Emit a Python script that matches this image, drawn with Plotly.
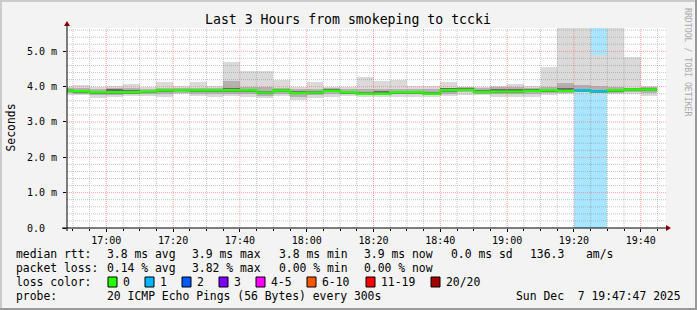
import plotly.graph_objects as go
import pandas as pd

# ---------------- data ----------------
bin_start = pd.date_range("2025-12-07 16:45:00", periods=36, freq="5min")
median_ms = [3.89, 3.87, 3.84, 3.84, 3.84, 3.86, 3.90, 3.90, 3.90, 3.90, 3.90, 3.90,
             3.83, 3.89, 3.82, 3.83, 3.88, 3.84, 3.80, 3.80, 3.84, 3.84, 3.80, 3.90,
             3.91, 3.85, 3.86, 3.86, 3.88, 3.90, 3.88, 3.90, 3.86, 3.90, 3.92, 3.92]
max_ms = [4.02, 4.05, 4.00, 4.02, 4.07, 3.99, 4.14, 4.02, 4.14, 4.03, 4.70, 4.44,
          4.45, 4.20, 3.99, 4.14, 4.00, 3.98, 4.28, 4.15, 4.19, 4.02, 4.01, 4.14,
          3.97, 3.99, 4.03, 4.08, 4.03, 4.57, 6.00, 6.00, 4.91, 6.00, 4.83, 4.02]
min_ms = [3.77, 3.77, 3.68, 3.71, 3.74, 3.74, 3.72, 3.79, 3.74, 3.72, 3.74, 3.72,
          3.68, 3.73, 3.61, 3.68, 3.72, 3.74, 3.70, 3.70, 3.72, 3.72, 3.70, 3.73,
          3.77, 3.77, 3.71, 3.72, 3.72, 3.77, 3.79, 3.81, 3.77, 3.79, 3.79, 3.74]
q_hi = [3.96, 3.95, 3.93, 3.97, 3.95, 3.93, 3.97, 3.96, 3.97, 3.97, 4.17, 4.00,
        3.98, 3.96, 3.93, 3.94, 3.95, 3.93, 3.93, 3.92, 3.94, 3.94, 3.92, 3.97,
        3.98, 3.95, 3.98, 3.98, 3.97, 4.00, 4.10, 4.05, 4.03, 4.00, 3.97, 3.98]
q_lo = [3.81, 3.80, 3.76, 3.77, 3.78, 3.79, 3.80, 3.83, 3.80, 3.79, 3.80, 3.79,
        3.74, 3.79, 3.72, 3.75, 3.79, 3.78, 3.75, 3.75, 3.78, 3.78, 3.75, 3.80,
        3.84, 3.80, 3.78, 3.78, 3.80, 3.82, 3.82, 3.84, 3.81, 3.83, 3.85, 3.82]
d_hi = [3.93, 3.91, 3.89, 3.93, 3.91, 3.89, 3.94, 3.94, 3.93, 3.94, 3.95, 3.94,
        3.87, 3.93, 3.87, 3.87, 3.92, 3.88, 3.86, 3.87, 3.89, 3.89, 3.86, 3.95,
        3.96, 3.90, 3.93, 3.93, 3.93, 3.94, 3.95, 3.93, 3.90, 3.93, 3.96, 3.96]
d_lo = [3.85, 3.82, 3.80, 3.80, 3.80, 3.82, 3.86, 3.87, 3.86, 3.86, 3.86, 3.86,
        3.79, 3.85, 3.78, 3.79, 3.84, 3.80, 3.76, 3.76, 3.80, 3.80, 3.76, 3.86,
        3.87, 3.81, 3.82, 3.82, 3.84, 3.86, 3.85, 3.86, 3.82, 3.86, 3.88, 3.88]
loss_pings = [0, 0, 0, 0, 0, 0, 0, 0, 0, 0, 0, 0,
              0, 0, 0, 0, 0, 0, 0, 0, 0, 0, 0, 0,
              0, 0, 0, 0, 0, 0, 0, 1, 1, 0, 0, 0]

y_tick_vals = [0, 1, 2, 3, 4, 5]
y_tick_text = ["0.0\u00a0\u00a0", "1.0\u00a0m", "2.0\u00a0m", "3.0\u00a0m", "4.0\u00a0m", "5.0\u00a0m"]
loss_labels = ["0", "1", "2", "3", "4-5", "6-10", "11-19", "20/20"]
loss_colors = ["#26ff00", "#00b8ff", "#0059ff", "#7e00ff", "#ff00ff", "#ff5500", "#ff0000", "#a10000"]

# ---------------- geometry ----------------
W, H = 697, 310
L, R, T, B = 67, 31, 28, 82
PW, PH = W - L - R, H - T - B
Y_TOP = 5.66
STEP_MS = 300000
MONO = "DejaVu Sans Mono"

def px(x):
    return (x - L) / PW

def py(y):
    return (H - B - y) / PH

fig = go.Figure()

# loss background columns
loss_x = [t for t, l in zip(bin_start, loss_pings) if l > 0]
fig.add_trace(go.Bar(x=loss_x, y=[10] * len(loss_x), base=[0] * len(loss_x),
                     width=STEP_MS, offset=0, marker_color="#a8e6ff",
                     marker_line_width=0, hoverinfo="skip"))

def band(lo, hi, color):
    fig.add_trace(go.Bar(x=bin_start, y=[h - l for l, h in zip(lo, hi)], base=lo,
                         width=STEP_MS, offset=0, marker_color=color,
                         marker_line_width=0, hoverinfo="skip"))

band(min_ms, max_ms, "#dadada")
band(q_lo, q_hi, "#b2b2b2")
band(d_lo, d_hi, "#6a6a6a")

# median step line
end_t = bin_start[-1] + pd.Timedelta(minutes=5)
fig.add_trace(go.Scatter(x=list(bin_start) + [end_t], y=median_ms + [median_ms[-1]],
                         mode="lines", line=dict(color="#26ff00", width=2.4, shape="hv"),
                         hoverinfo="skip"))
seg_x, seg_y = [], []
for t, m, l in zip(bin_start, median_ms, loss_pings):
    if l > 0:
        seg_x += [t, t + pd.Timedelta(minutes=5), None]
        seg_y += [m, m, None]
fig.add_trace(go.Scatter(x=seg_x, y=seg_y, mode="lines",
                         line=dict(color="#00b8ff", width=2.4), hoverinfo="skip"))

# ---------------- grid (drawn above data, as rrdtool does) ----------------
shapes = []
MAJ = "rgba(255,95,95,0.6)"
MIN = "rgba(140,140,140,0.5)"
for t in pd.date_range("2025-12-07 16:50:00", "2025-12-07 19:45:00", freq="5min"):
    major = (t.minute % 20 == 0)
    shapes.append(dict(type="line", xref="x", yref="y", x0=t, x1=t, y0=0, y1=Y_TOP,
                       layer="above", line=dict(color=MAJ if major else MIN, width=1, dash="1px,1px")))
for k in range(1, 29):
    v = k * 0.2
    major = (k % 5 == 0)
    shapes.append(dict(type="line", xref="paper", yref="y", x0=0, x1=1, y0=v, y1=v,
                       layer="above", line=dict(color=MAJ if major else MIN, width=1, dash="1px,1px")))

# axes lines + arrows
shapes.append(dict(type="line", xref="paper", yref="paper", x0=px(62), x1=px(667), y0=0, y1=0,
                   layer="above", line=dict(color="black", width=1)))
shapes.append(dict(type="line", xref="paper", yref="paper", x0=0, x1=0, y0=py(231), y1=py(24),
                   layer="above", line=dict(color="black", width=1)))
shapes.append(dict(type="path", xref="paper", yref="paper",
                   path=f"M {px(666)} {py(225)} L {px(671)} {py(228)} L {px(666)} {py(231)} Z",
                   fillcolor="#8b0000", line=dict(width=0), layer="above"))
shapes.append(dict(type="path", xref="paper", yref="paper",
                   path=f"M {px(64)} {py(26)} L {px(67)} {py(21)} L {px(70)} {py(26)} Z",
                   fillcolor="#8b0000", line=dict(width=0), layer="above"))

# canvas frame
shapes.append(dict(type="rect", xref="paper", yref="paper", x0=px(0), x1=px(2), y0=py(H), y1=py(0),
                   fillcolor="#cbcbcb", line=dict(width=0)))
shapes.append(dict(type="rect", xref="paper", yref="paper", x0=px(0), x1=px(W), y0=py(2), y1=py(0),
                   fillcolor="#cbcbcb", line=dict(width=0)))
shapes.append(dict(type="rect", xref="paper", yref="paper", x0=px(W - 2), x1=px(W), y0=py(H), y1=py(0),
                   fillcolor="#999999", line=dict(width=0)))
shapes.append(dict(type="rect", xref="paper", yref="paper", x0=px(0), x1=px(W), y0=py(H), y1=py(H - 2),
                   fillcolor="#999999", line=dict(width=0)))

# loss colour boxes
box_x = [108, 145, 182, 219, 256, 307, 366, 431]
label_x = [123, 160, 197, 234, 271, 322, 381, 446]
for bx, c in zip(box_x, loss_colors):
    shapes.append(dict(type="rect", xref="paper", yref="paper", x0=px(bx), x1=px(bx + 9),
                       y0=py(287), y1=py(277), fillcolor=c, line=dict(color="black", width=1)))

# ---------------- text ----------------
ann = []
def text(x, y, s, size=11.4, color="black", anchor="left", angle=0):
    ann.append(dict(x=px(x), y=py(y), xref="paper", yref="paper", text=s, showarrow=False,
                    xanchor=anchor, yanchor="middle", textangle=angle,
                    borderpad=0, borderwidth=0,
                    font=dict(family=MONO, size=size, color=color)))

text(348, 19, "Last 3 Hours from smokeping to tccki", size=13.2, anchor="center")
text(10.5, 128, "Seconds", size=11.4, anchor="center", angle=-90)
text(688, 62, "RRDTOOL / TOBI OETIKER", size=8.2, color="#aaaaaa", anchor="center", angle=90)

row1 = [(16, "median rtt:"), (107, "3.8 ms avg"), (192, "3.9 ms max"), (279, "3.8 ms min"),
        (364, "3.9 ms now"), (451, "0.0 ms sd"), (530, "136.3"), (586, "am/s")]
row2 = [(16, "packet loss:"), (107, "0.14 % avg"), (192, "3.82 % max"), (279, "0.00 % min"),
        (364, "0.00 % now")]
for x, s in row1:
    text(x, 254, s)
for x, s in row2:
    text(x, 268, s)
text(16, 282, "loss color:")
for x, s in zip(label_x, loss_labels):
    text(x, 282, s)
text(16, 296, "probe:")
text(107, 296, "20 ICMP Echo Pings (56 Bytes) every 300s")
text(681, 296, "Sun Dec\u00a0\u00a07 19:47:47 2025", anchor="right")

fig.update_layout(
    width=W, height=H,
    margin=dict(l=L, r=R, t=T, b=B),
    paper_bgcolor="#f3f3f3", plot_bgcolor="white",
    showlegend=False, barmode="overlay", bargap=0,
    shapes=shapes, annotations=ann,
    xaxis=dict(type="date", range=["2025-12-07 16:48:14", "2025-12-07 19:47:34"],
               showgrid=False, zeroline=False, showline=False,
               tick0="2025-12-07 17:00:00", dtick=20 * 60 * 1000, tickformat="%H:%M",
               ticks="outside", ticklen=3, tickcolor="black",
               minor=dict(dtick=STEP_MS, ticks="outside", ticklen=2, tickcolor="black", showgrid=False),
               tickfont=dict(family=MONO, size=10, color="black"), fixedrange=True),
    yaxis=dict(range=[0, Y_TOP], showgrid=False, zeroline=False, showline=False,
               tickvals=y_tick_vals, ticktext=y_tick_text,
               ticks="outside", ticklen=3, tickcolor="black", ticklabelstandoff=4,
               tickfont=dict(family=MONO, size=10, color="black"), fixedrange=True),
)

fig.write_html("out.html")
